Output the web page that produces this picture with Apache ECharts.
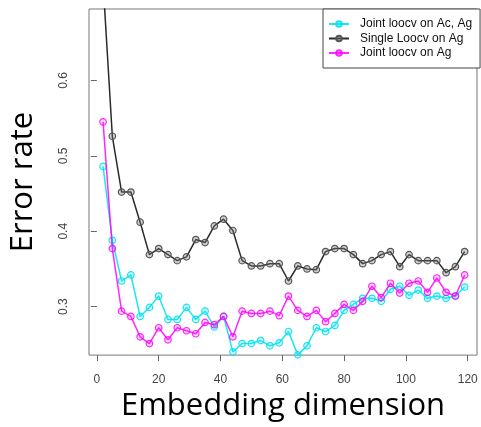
<!DOCTYPE html>
<html>
<head>
<meta charset="utf-8">
<script src="https://cdn.jsdelivr.net/npm/echarts@6/dist/echarts.min.js"></script>
<style>html,body{margin:0;padding:0;background:#fff;}#c{width:481px;height:427px;}</style>
</head>
<body>
<div id="c"></div>
<script>
const dims = [2,5,8,11,14,17,20,23,26,29,32,35,38,41,44,47,50,53,56,59,62,65,68,71,74,77,80,83,86,89,92,95,98,101,104,107,110,113,116,119];
const jointAcAg = [0.486,0.388,0.334,0.342,0.287,0.299,0.314,0.283,0.283,0.299,0.283,0.294,0.273,0.287,0.240,0.251,0.251,0.255,0.248,0.252,0.267,0.236,0.248,0.272,0.267,0.275,0.295,0.303,0.311,0.311,0.307,0.323,0.327,0.315,0.322,0.311,0.314,0.311,0.314,0.326];
const singleAg = [0.730,0.526,0.452,0.452,0.412,0.369,0.377,0.369,0.361,0.366,0.389,0.385,0.407,0.416,0.401,0.361,0.354,0.354,0.357,0.357,0.334,0.354,0.350,0.349,0.373,0.377,0.377,0.369,0.357,0.361,0.369,0.373,0.353,0.369,0.361,0.361,0.361,0.345,0.353,0.373];
const jointAg = [0.545,0.377,0.294,0.287,0.260,0.251,0.272,0.256,0.272,0.268,0.264,0.279,0.276,0.287,0.260,0.294,0.291,0.291,0.294,0.288,0.314,0.295,0.287,0.295,0.280,0.291,0.303,0.295,0.307,0.327,0.312,0.331,0.318,0.331,0.334,0.319,0.338,0.319,0.314,0.342];
const xTicks = [0,20,40,60,80,100,120];
const yTicks = [0.3,0.4,0.5,0.6];
const names = ['Joint loocv on Ac, Ag','Single Loocv on Ag','Joint loocv on Ag'];

const pairs = v => dims.map((d,i)=>[d,v[i]]);
function mk(name, vals, line, fill, border, z){
  return {
    name, type:'line', data: pairs(vals), z,
    symbol:'circle', symbolSize:6.5, clip:true,
    lineStyle:{color:line, width:1.5},
    itemStyle:{color:fill, borderColor:border, borderWidth:1.2},
    emphasis:{disabled:true}, animation:false
  };
}
const chart = echarts.init(document.getElementById('c'), null, {renderer:'canvas'});
chart.setOption({
  animation:false,
  backgroundColor:'#fff',
  grid:{left:83, right:4, top:9, bottom:66, show:true, borderColor:'#777', borderWidth:1, backgroundColor:'transparent'},
  legend:{
    orient:'vertical', left:323, top:9, data:names,
    backgroundColor:'#fff', borderColor:'#444', borderWidth:1,
    padding:[8,8,8,5], itemGap:0.5, itemWidth:20, itemHeight:7,
    textStyle:{fontFamily:'Liberation Sans', fontSize:12, color:'#111', lineHeight:14, padding:[0,0,0,6]}
  },
  xAxis:{
    type:'value', min:-2.55, max:123,
    name:'Embedding dimension', nameLocation:'middle', nameGap:33,
    nameTextStyle:{fontFamily:'Open Sans', fontSize:31, color:'#000'},
    axisLine:{show:false}, splitLine:{show:false},
    axisTick:{show:true, length:6, lineStyle:{color:'#666'}, customValues:xTicks},
    axisLabel:{customValues:xTicks, margin:19, fontFamily:'Liberation Sans', fontSize:12, color:'#444'}
  },
  yAxis:{
    type:'value', min:0.2357, max:0.6948,
    name:'Error rate', nameLocation:'middle', nameGap:50, nameRotate:90,
    nameTextStyle:{fontFamily:'Open Sans', fontSize:31, color:'#000'},
    axisLine:{show:false}, splitLine:{show:false},
    axisTick:{show:true, length:6, lineStyle:{color:'#666'}, customValues:yTicks},
    axisLabel:{customValues:yTicks, rotate:90, margin:19, fontFamily:'Liberation Sans', fontSize:12, color:'#444', formatter:v=>v.toFixed(1)}
  },
  series:[
    mk(names[1], singleAg, '#2a2a2a', 'rgba(120,120,120,0.35)', '#555', 2),
    mk(names[0], jointAcAg, 'rgba(0,230,240,0.9)', 'rgba(0,230,240,0.15)', 'rgba(0,225,240,0.9)', 3),
    mk(names[2], jointAg, 'rgba(255,0,255,0.85)', 'rgba(255,0,255,0.15)', 'rgba(255,0,255,0.85)', 4)
  ]
});
</script>
</body>
</html>
